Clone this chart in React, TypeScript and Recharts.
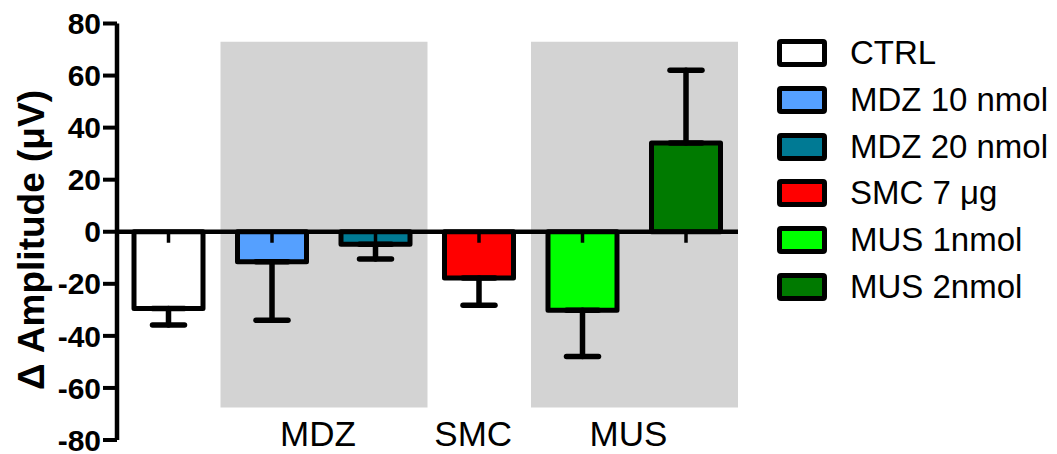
import React from 'react';
import { BarChart, Bar, XAxis, YAxis, ReferenceArea, ReferenceLine, ErrorBar, Cell } from 'recharts';

const categories = ['CTRL', 'MDZ 10 nmol', 'MDZ 20 nmol', 'SMC 7 μg', 'MUS 1nmol', 'MUS 2nmol'];
const values = [-29.5, -11.5, -4.8, -17.8, -30.2, 34.1];
const errors = [6.3, 22.5, 5.7, 10.4, 17.7, 27.9];
const colors = ['#FFFFFF', '#55A0FF', '#007A94', '#FF0000', '#00FF00', '#007A00'];
const yTicks = [-80, -60, -40, -20, 0, 20, 40, 60, 80];
const groupLabels = ['MDZ', 'SMC', 'MUS'];
const groupFrom = ['MDZ 10 nmol', 'SMC 7 μg', 'MUS 1nmol'];
const groupTo = ['MDZ 20 nmol', 'SMC 7 μg', 'MUS 2nmol'];
const groupShaded = [true, false, true];
const bandTop = 73;
const bandBottom = -67.5;

const data = categories.map((name, i) => ({
  name,
  value: values[i],
  err: values[i] < 0 ? [errors[i], 0] : [0, errors[i]],
}));

const FONT = '"Liberation Sans", Arial, sans-serif';

const BarShape = (props: any) => {
  const { x, y, width, height, fill } = props;
  const top = Math.min(y, y + height);
  const h = Math.abs(height);
  const zeroY = y + height;
  const cx = x + width / 2;
  return (
    <g>
      <rect x={x} y={top} width={width} height={h} fill={fill} stroke="#000" strokeWidth={5} strokeLinejoin="round" />
      <line x1={cx} y1={zeroY} x2={cx} y2={zeroY + 11} stroke="#000" strokeWidth={3.5} />
    </g>
  );
};

const YLabel = () => (
  <text
    transform="translate(44, 240) rotate(-90)"
    textAnchor="middle"
    fontFamily={FONT}
    fontWeight="bold"
    fontSize={37}
    fill="#000"
  >
    Δ Amplitude (μV)
  </text>
);

const GroupLabel = (props: any) => {
  const { viewBox, value } = props;
  const cx = viewBox.x + viewBox.width / 2 - 6;
  const by = viewBox.y + viewBox.height;
  return (
    <text x={cx} y={by + 39} textAnchor="middle" fontFamily={FONT} fontSize={35} fill="#000">
      {value}
    </text>
  );
};

export default function App() {
  return (
    <div style={{ position: 'absolute', left: 0, top: 0, width: 1057, height: 454, background: '#fff' }}>
      <BarChart
        width={1057}
        height={454}
        data={data}
        margin={{ top: 23.5, right: 319, bottom: 14, left: 0 }}
        barSize={69}
      >
        {groupLabels.map((g, i) => (
          <ReferenceArea
            key={g}
            x1={groupFrom[i]}
            x2={groupTo[i]}
            y1={bandBottom}
            y2={bandTop}
            fill="#D3D3D3"
            fillOpacity={groupShaded[i] ? 1 : 0}
            stroke="none"
            ifOverflow="visible"
            label={{ value: g, content: GroupLabel }}
          />
        ))}
        <XAxis dataKey="name" hide />
        <YAxis
          type="number"
          domain={[-80, 80]}
          ticks={yTicks}
          width={117}
          interval={0}
          tickSize={14}
          tickMargin={2}
          axisLine={{ stroke: '#000', strokeWidth: 4.5 }}
          tickLine={{ stroke: '#000', strokeWidth: 4 }}
          tick={{ fontFamily: FONT, fontWeight: 'bold', fontSize: 30, fill: '#000' }}
          label={{ content: YLabel }}
        />
        <ReferenceLine y={0} stroke="#000" strokeWidth={4.5} ifOverflow="visible" />
        <Bar dataKey="value" isAnimationActive={false} shape={BarShape}>
          {data.map((d, i) => (
            <Cell key={d.name} fill={colors[i]} />
          ))}
          <ErrorBar dataKey="err" width={16} stroke="#000" strokeWidth={5.5} strokeLinecap="round" />
        </Bar>
      </BarChart>
      <div style={{ position: 'absolute', left: 777, top: 30, fontFamily: FONT }}>
        {categories.map((c, i) => (
          <div key={c} style={{ display: 'flex', alignItems: 'center', height: 46.7 }}>
            <div
              style={{
                width: 50,
                height: 28,
                boxSizing: 'border-box',
                border: '5px solid #000',
                borderRadius: 4,
                background: colors[i],
              }}
            />
            <span style={{ marginLeft: 23, fontSize: 33, color: '#000', whiteSpace: 'nowrap' }}>{c}</span>
          </div>
        ))}
      </div>
    </div>
  );
}
